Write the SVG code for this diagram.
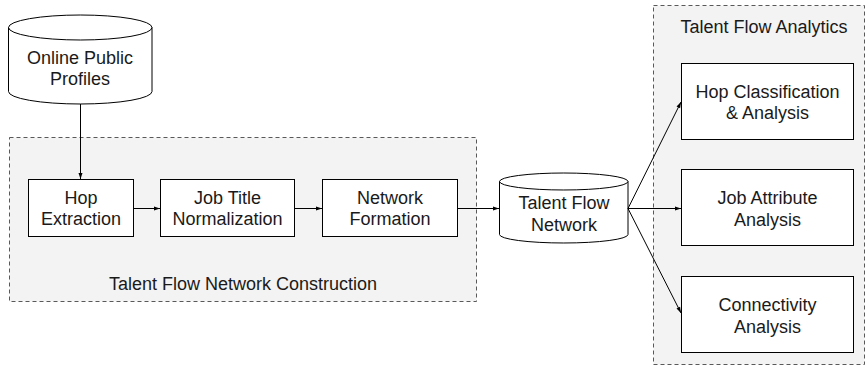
<svg xmlns="http://www.w3.org/2000/svg" width="866" height="374" viewBox="0 0 866 374">
<style>
.grp{fill:#f3f3f3;stroke:#595959;stroke-width:1;stroke-dasharray:4,3}
.box{fill:#fff;stroke:#000;stroke-width:1}
.t{font-family:"Liberation Sans",Arial,sans-serif;font-size:18px;fill:#1a1a1a;text-anchor:middle}
.e{fill:none;stroke:#000;stroke-width:1}
</style>
<defs>
<marker id="ah" markerUnits="userSpaceOnUse" markerWidth="8" markerHeight="8" refX="7" refY="4" orient="auto">
<path d="M1,2 L7,4 L1,6 Z" fill="#000"/>
</marker>
</defs>
<rect width="866" height="374" fill="#fff"/>
<g id="construction">
<rect class="grp" x="9.5" y="137.5" width="467" height="164"/>
<text class="t" x="243" y="290">Talent Flow Network Construction</text>
</g>
<g id="analytics">
<rect class="grp" x="653.5" y="5.5" width="211" height="359"/>
<text class="t" x="764" y="33">Talent Flow Analytics</text>
</g>
<g id="profiles">
<path class="box" d="M8.5,27.5 A71.75,12.5 0 0 1 152,27.5 L152,91.5 A71.75,12.5 0 0 1 8.5,91.5 Z"/>
<path class="e" d="M8.5,27.5 A71.75,12.5 0 0 0 152,27.5"/>
<text class="t" x="80" y="64">Online Public</text>
<text class="t" x="80" y="85">Profiles</text>
</g>
<g id="hop-extraction">
<rect class="box" x="28.5" y="179.5" width="105" height="57"/>
<text class="t" x="81" y="204">Hop</text>
<text class="t" x="81" y="225">Extraction</text>
</g>
<g id="normalization">
<rect class="box" x="160.5" y="179.5" width="134" height="57"/>
<text class="t" x="227.5" y="204">Job Title</text>
<text class="t" x="227.5" y="225">Normalization</text>
</g>
<g id="formation">
<rect class="box" x="322.5" y="179.5" width="135" height="57"/>
<text class="t" x="390" y="204">Network</text>
<text class="t" x="390" y="225">Formation</text>
</g>
<g id="talent-network">
<path class="box" d="M499.5,181.5 A64.25,8.5 0 0 1 628,181.5 L628,234.5 A64.25,8.5 0 0 1 499.5,234.5 Z"/>
<path class="e" d="M499.5,181.5 A64.25,8.5 0 0 0 628,181.5"/>
<text class="t" x="564" y="209">Talent Flow</text>
<text class="t" x="564" y="231">Network</text>
</g>
<g id="hop-classification">
<rect class="box" x="681.5" y="63.5" width="172" height="76"/>
<text class="t" x="767.5" y="98">Hop Classification</text>
<text class="t" x="767.5" y="119">&amp; Analysis</text>
</g>
<g id="job-attribute">
<rect class="box" x="681.5" y="169.5" width="172" height="76"/>
<text class="t" x="767.5" y="204">Job Attribute</text>
<text class="t" x="767.5" y="226">Analysis</text>
</g>
<g id="connectivity">
<rect class="box" x="681.5" y="276.5" width="172" height="76"/>
<text class="t" x="767.5" y="311">Connectivity</text>
<text class="t" x="767.5" y="333">Analysis</text>
</g>
<g id="connectors" fill="none" stroke="#000" stroke-width="1">
<path d="M80.5,104 L80.5,179" marker-end="url(#ah)"/>
<path d="M134,208.5 L160,208.5" marker-end="url(#ah)"/>
<path d="M295,208.5 L322,208.5" marker-end="url(#ah)"/>
<path d="M458,208.5 L499,208.5" marker-end="url(#ah)"/>
<path d="M628,208.5 L681,102" marker-end="url(#ah)"/>
<path d="M628,208.5 L681,208.5" marker-end="url(#ah)"/>
<path d="M628,208.5 L681,313" marker-end="url(#ah)"/>
</g>
</svg>
